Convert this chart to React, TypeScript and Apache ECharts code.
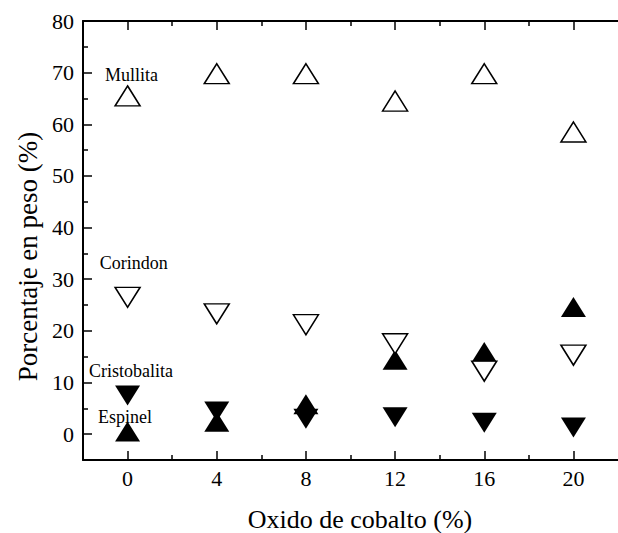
import React, { useEffect, useRef } from "react";
import * as echarts from "echarts";

// Cobalt oxide content (%) and phase weight percentages
const cobalt = [0, 4, 8, 12, 16, 20];
const mullita = [65.5, 69.8, 69.8, 64.5, 69.8, 58.5];
const corindon = [26.5, 23.3, 21.2, 17.5, 12.2, 15.3];
const cristobalita = [7.5, 4.4, 3.0, 3.3, 2.2, 1.3];
const espinel = [0.5, 2.4, 5.8, 14.4, 15.9, 24.6];

const xMajor = [0, 4, 8, 12, 16, 20];
const xMinor = [2, 6, 10, 14, 18];
const yMajor = [0, 10, 20, 30, 40, 50, 60, 70, 80];
const yMinor = [5, 15, 25, 35, 45, 55, 65, 75];

const FONT = "Liberation Serif";

const pairs = (ys: number[]) => cobalt.map((x, i) => [x, ys[i]]);

export default function App() {
  const ref = useRef<HTMLDivElement>(null);

  useEffect(() => {
    if (!ref.current) return;
    const chart = echarts.init(ref.current, null, { renderer: "svg" });

    const line = { show: true, onZero: false, lineStyle: { color: "#000", width: 2 } };
    const noLine = { show: false, onZero: false };
    const tick = (values: number[], length: number) => ({
      show: true,
      inside: true,
      length,
      lineStyle: { color: "#000", width: 1.5 },
      customValues: values,
    });
    const baseX = {
      type: "value" as const,
      min: -2,
      max: 22,
      splitLine: { show: false },
    };
    const baseY = {
      type: "value" as const,
      min: -5,
      max: 80,
      splitLine: { show: false },
    };

    const open = (name: string, ys: number[], rot: number) => ({
      name,
      type: "scatter",
      data: pairs(ys),
      symbol: "triangle",
      symbolSize: [25, 20],
      symbolRotate: rot,
      itemStyle: { color: "#fff", borderColor: "#000", borderWidth: 1.5, opacity: 1 },
    });
    const filled = (name: string, ys: number[], rot: number) => ({
      name,
      type: "scatter",
      data: pairs(ys),
      symbol: "triangle",
      symbolSize: [25, 20],
      symbolRotate: rot,
      itemStyle: { color: "#000", opacity: 1 },
    });

    const note = (text: string, x: number, y: number) => ({
      type: "text",
      x,
      y,
      z: 100,
      style: {
        text,
        fontFamily: FONT,
        fontSize: 18,
        fill: "#000",
        align: "center",
        verticalAlign: "middle",
      },
    });

    chart.setOption({
      animation: false,
      backgroundColor: "#fff",
      grid: { left: 83, top: 21, right: -10, bottom: 73, containLabel: false },
      xAxis: [
        {
          ...baseX,
          position: "bottom",
          axisLine: line,
          axisTick: tick(xMajor, 9),
          axisLabel: { show: true, customValues: xMajor, margin: 7, fontFamily: FONT, fontSize: 22, color: "#000" },
        },
        {
          ...baseX,
          position: "bottom",
          axisLine: noLine,
          axisTick: tick(xMinor, 5),
          axisLabel: { show: false },
        },
        {
          ...baseX,
          position: "top",
          axisLine: line,
          axisTick: tick(xMajor, 9),
          axisLabel: { show: false },
        },
        {
          ...baseX,
          position: "top",
          axisLine: noLine,
          axisTick: tick(xMinor, 5),
          axisLabel: { show: false },
        },
      ],
      yAxis: [
        {
          ...baseY,
          position: "left",
          axisLine: line,
          axisTick: tick(yMajor, 9),
          axisLabel: { show: true, customValues: yMajor, margin: 9, fontFamily: FONT, fontSize: 22, color: "#000" },
        },
        {
          ...baseY,
          position: "left",
          axisLine: noLine,
          axisTick: tick(yMinor, 5),
          axisLabel: { show: false },
        },
      ],
      graphic: [
        note("Mullita", 131.5, 75),
        note("Corindon", 133.7, 263.3),
        note("Cristobalita", 131, 371.3),
        note("Espinel", 125, 416.5),
        {
          type: "text",
          x: 360,
          y: 519,
          style: {
            text: "Oxido de cobalto (%)",
            fontFamily: FONT,
            fontSize: 26,
            fill: "#000",
            align: "center",
            verticalAlign: "middle",
          },
        },
        {
          type: "text",
          x: 27.5,
          y: 256.5,
          rotation: Math.PI / 2,
          style: {
            text: "Porcentaje en peso (%)",
            fontFamily: FONT,
            fontSize: 27,
            fill: "#000",
            align: "center",
            verticalAlign: "middle",
          },
        },
      ],
      series: [
        open("Mullita", mullita, 0),
        filled("Cristobalita", cristobalita, 180),
        filled("Espinel", espinel, 0),
        open("Corindon", corindon, 180),
      ],
    });

    return () => chart.dispose();
  }, []);

  return (
    <div
      ref={ref}
      style={{ position: "absolute", left: 0, top: 0, width: 618, height: 533 }}
    />
  );
}
